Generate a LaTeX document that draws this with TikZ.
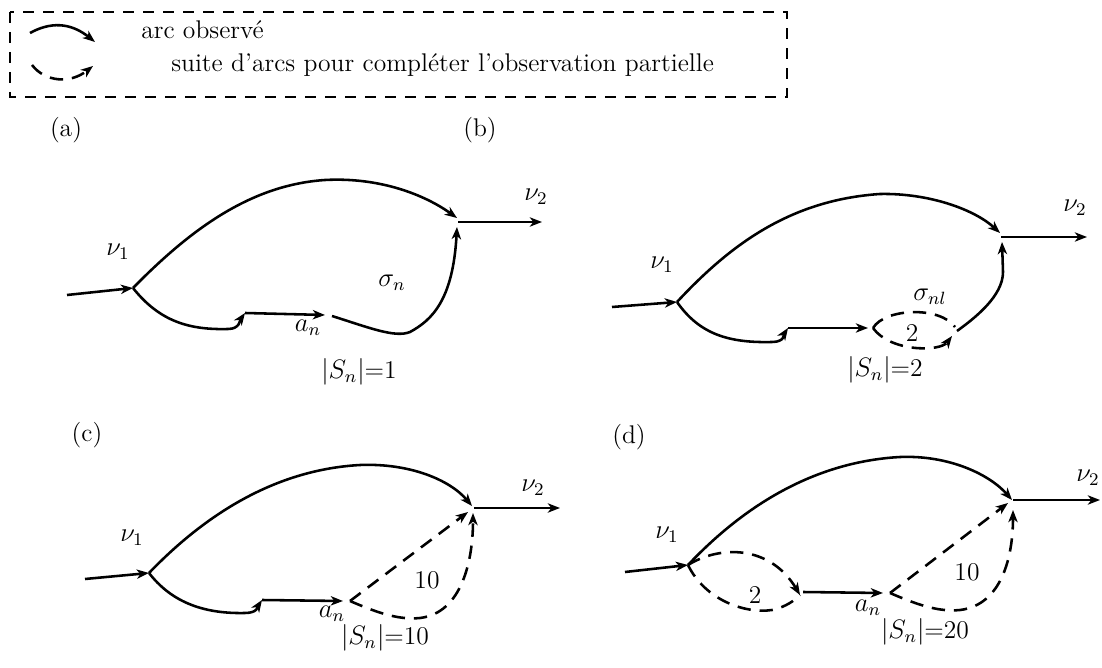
\documentclass[tikz,border=0pt]{standalone}
\usetikzlibrary{arrows.meta}
\begin{document}
\begin{tikzpicture}[x=0.45pt,y=-0.45pt,
  line width=1.15pt,
  arr/.style={-{Stealth[length=5.5pt,width=4.2pt,inset=1.6pt]}},
  dsh/.style={dash pattern=on 6pt off 4pt},
  lbl/.style={font=\fontsize{11.5}{13}\selectfont, inner sep=1pt},
  txt/.style={font=\fontsize{11.5}{13}\selectfont, inner sep=0pt, anchor=west}]
\useasboundingbox (0,0) rectangle (1102,668);

% ---------------- legend ----------------
\draw[dash pattern=on 5pt off 4pt, line width=1.1pt] (10,12) rectangle (787,97);
\coordinate (l1) at (30,33); \coordinate (l2) at (95,42);
\draw[arr] (l1) .. controls (50,22) and (70,22) .. (l2);
\coordinate (l3) at (32,65); \coordinate (l4) at (93,66);
\draw[arr,dsh] (l3) .. controls (45,82) and (70,84) .. (l4);
\node[txt] (t1) at (140,30) {arc observé};
\node[txt] (t2) at (170,65) {suite d’arcs pour compléter l’observation partielle};

% ---------------- panel labels ----------------
\node[lbl] (pa) at (66,130) {(a)};
\node[lbl] (pb) at (480,130) {(b)};
\node[lbl] (pc) at (87,435) {(c)};
\node[lbl] (pd) at (629,437) {(d)};

% ---------------- panel (a) ----------------
\coordinate (a0) at (67,295);
\coordinate (a1) at (133,288);
\coordinate (a2) at (457,218);
\coordinate (a2b) at (457,227);
\coordinate (a2c) at (458,222);
\coordinate (a3) at (542,222);
\coordinate (ap) at (325,180);
\coordinate (a4) at (245,313);
\coordinate (a5) at (325,315);
\coordinate (a6) at (332,316);
\coordinate (a7) at (410,332);
\draw[arr] (a0) -- (a1);
\draw[arr] (a1) .. controls (190,230) and (250,185) .. (ap) .. controls (380,177) and (425,195) .. (a2);
\draw[arr] (a2c) -- (a3);
\draw[arr] (a1) .. controls (160,322) and (190,330) .. (228,329) .. controls (240,329) and (240,320) .. (a4);
\draw[arr] (a4) -- (a5);
\draw[arr] (a6) .. controls (370,328) and (395,338) .. (a7) .. controls (432,320) and (453,300) .. (a2b);
\node[lbl] (a-nu1) at (118,252) {$\nu_1$};
\node[lbl] (a-nu2) at (536,197) {$\nu_2$};
\node[lbl] (a-sig) at (392,283) {$\sigma_n$};
\node[lbl] (a-an) at (308,328) {$a_n$};
\node[lbl] (a-S) at (359,372) {$|S_n|$=1};

% ---------------- panel (b) ----------------
\coordinate (b0) at (612,307);
\coordinate (b1) at (677,302);
\coordinate (bp) at (880,194);
\coordinate (b2) at (1000,233);
\coordinate (b2b) at (1002,242);
\coordinate (b2c) at (1001,237);
\coordinate (b3) at (1087,237);
\coordinate (b4) at (788,328);
\coordinate (b5) at (868,328);
\coordinate (b6) at (873,328);
\coordinate (b7) at (955,327);
\coordinate (b8) at (952,336);
\coordinate (b9) at (957,331);
\draw[arr] (b0) -- (b1);
\draw[arr] (b1) .. controls (730,245) and (790,200) .. (bp) .. controls (930,193) and (975,210) .. (b2);
\draw[arr] (b2c) -- (b3);
\draw[arr] (b1) .. controls (700,335) and (730,343) .. (772,342) .. controls (785,342) and (784,334) .. (b4);
\draw[arr] (b4) -- (b5);
\draw[dsh] (b6) .. controls (885,308) and (940,306) .. (b7);
\draw[dsh,arr] (b6) .. controls (890,352) and (940,352) .. (b8);
\draw[arr] (b9) .. controls (975,318) and (1003,296) .. (1003,272) -- (b2b);
\node[lbl] (b-nu1) at (662,265) {$\nu_1$};
\node[lbl] (b-nu2) at (1075,208) {$\nu_2$};
\node[lbl] (b-sig) at (930,297) {$\sigma_{nl}$};
\node[lbl] (b-two) at (912,333) {2};
\node[lbl] (b-S) at (885,370) {$|S_n|$=2};

% ---------------- panel (c) ----------------
\coordinate (c0) at (85,579);
\coordinate (c1) at (149,573);
\coordinate (cp) at (360,465);
\coordinate (c2) at (472,506);
\coordinate (c2c) at (474,508);
\coordinate (c3) at (560,508);
\coordinate (c4) at (262,600);
\coordinate (c5) at (343,601);
\coordinate (c6) at (350,601);
\coordinate (c7) at (468,512);
\coordinate (c8) at (473,513);
\draw[arr] (c0) -- (c1);
\draw[arr] (c1) .. controls (200,520) and (270,470) .. (cp) .. controls (410,463) and (450,480) .. (c2);
\draw[arr] (c2c) -- (c3);
\draw[arr] (c1) .. controls (170,600) and (200,614) .. (245,613) .. controls (258,613) and (258,606) .. (c4);
\draw[arr] (c4) -- (c5);
\draw[dsh,arr] (c6) -- (c7);
\draw[dsh,arr] (c6) .. controls (380,614) and (400,620) .. (420,618) .. controls (462,613) and (473,560) .. (c8);
\node[lbl] (c-nu1) at (132,538) {$\nu_1$};
\node[lbl] (c-nu2) at (533,488) {$\nu_2$};
\node[lbl] (c-ten) at (427,580) {10};
\node[lbl] (c-an) at (332,614) {$a_n$};
\node[lbl] (c-S) at (385,638) {$|S_n|$=10};

% ---------------- panel (d) ----------------
\coordinate (d0) at (625,572);
\coordinate (d1) at (688,565);
\coordinate (dp) at (900,457);
\coordinate (d2) at (1012,500);
\coordinate (d2c) at (1013,500);
\coordinate (d3) at (1100,500);
\coordinate (d4) at (800,595);
\coordinate (d4b) at (803,592);
\coordinate (d5) at (883,593);
\coordinate (d6) at (890,593);
\coordinate (d7) at (1008,503);
\coordinate (d8) at (1013,510);
\draw[arr] (d0) -- (d1);
\draw[arr] (d1) .. controls (740,510) and (810,462) .. (dp) .. controls (950,455) and (990,475) .. (d2);
\draw[arr] (d2c) -- (d3);
\draw[dsh,arr] (d1) .. controls (720,545) and (770,545) .. (d4);
\draw[dsh] (d1) .. controls (705,600) and (745,614) .. (772,610) .. controls (786,607) and (795,600) .. (d4);
\draw[arr] (d4b) -- (d5);
\draw[dsh,arr] (d6) -- (d7);
\draw[dsh,arr] (d6) .. controls (920,606) and (940,612) .. (960,610) .. controls (1002,605) and (1013,556) .. (d8);
\node[lbl] (d-nu1) at (667,535) {$\nu_1$};
\node[lbl] (d-nu2) at (1088,478) {$\nu_2$};
\node[lbl] (d-two) at (755,595) {2};
\node[lbl] (d-ten) at (967,572) {10};
\node[lbl] (d-an) at (868,608) {$a_n$};
\node[lbl] (d-S) at (925,632) {$|S_n|$=20};
\end{tikzpicture}
\end{document}
